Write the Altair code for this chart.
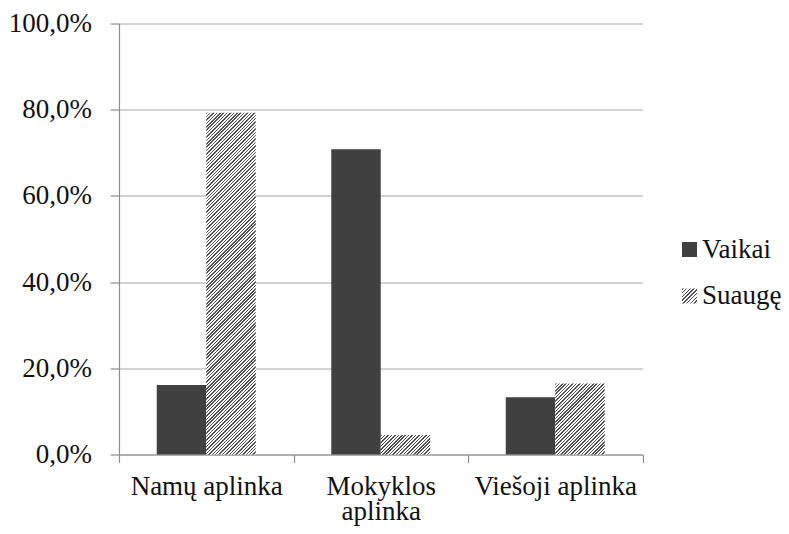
import altair as alt

# ---- data ----
categories = ["Namų aplinka", "Mokyklos aplinka", "Viešoji aplinka"]
label_lines = {"Mokyklos aplinka": ["Mokyklos", "aplinka"]}
series = ["Vaikai", "Suaugę"]
vaikai = [16.1, 70.8, 13.3]
suauge = [79.3, 4.5, 16.5]
y_ticks = [0, 20, 40, 60, 80, 100]

# ---- layout / style ----
W, H = 523.5, 431
BAND = W / len(categories)
BAR_W = 49.5
PAD_OUTER = (BAND / BAR_W - 2) / 2
FONT = "Liberation Serif"
FS = 27
DARK = "#404040"
HATCH_DARK = "#505050"
HATCH_LIGHT = "#ffffff"
PERIOD = 3.4


def hatch(w, h, period=PERIOD, frac=0.45):
    """Linear gradient with hard stops imitating 45° '////' hatching."""
    k = (w + h) / (w * w + h * h)
    n = max(1, int(round((w + h) / period)))
    stops = []
    for i in range(n):
        a = i / n
        b = (i + frac) / n
        c = (i + 1) / n
        stops += [
            {"offset": round(a, 5), "color": HATCH_DARK},
            {"offset": round(b, 5), "color": HATCH_DARK},
            {"offset": round(b, 5), "color": HATCH_LIGHT},
            {"offset": round(c, 5), "color": HATCH_LIGHT},
        ]
    return {"gradient": "linear", "x1": 0, "y1": 0,
            "x2": round(w * k, 5), "y2": round(h * k, 5), "stops": stops}


rows = []
for c, v, s in zip(categories, vaikai, suauge):
    rows.append({"category": c, "series": series[0], "value": v, "fillv": DARK})
    rows.append({"category": c, "series": series[1], "value": s,
                 "fillv": hatch(BAR_W, s / 100 * H)})

label_expr = "datum.label"
for k, lines in label_lines.items():
    arr = "[" + ", ".join("'" + l + "'" for l in lines) + "]"
    label_expr = f"datum.label == '{k}' ? {arr} : ({label_expr})"

bars = alt.Chart(alt.Data(values=rows)).mark_bar().encode(
    x=alt.X("category:N", sort=categories,
            scale=alt.Scale(paddingInner=0, paddingOuter=0),
            axis=alt.Axis(title=None, labelAngle=0, tickBand="extent",
                          tickSize=8, labelPadding=11, labelLineHeight=25,
                          labelExpr=label_expr, labelOverlap=False,
                          labelLimit=0, grid=False)),
    xOffset=alt.XOffset("series:N", sort=series,
                        scale=alt.Scale(paddingInner=0, paddingOuter=PAD_OUTER)),
    y=alt.Y("value:Q", scale=alt.Scale(domain=[0, 100], nice=False),
            axis=alt.Axis(title=None, values=y_ticks, tickSize=9,
                          labelPadding=18.5, labelLimit=0,
                          labelExpr="replace(format(datum.value, '.1f'), '.', ',') + '%'",
                          grid=True, gridColor="#a6a6a6", gridWidth=1.2)),
    fill=alt.Fill("fillv:N", scale=None, legend=None),
)

# ---- manual legend ----
legend_layers = []
LEG_X, LEG_SQ, LEG_Y0, LEG_DY = 563, 15, 218.5, 46.5
for i, s in enumerate(series):
    top = LEG_Y0 + i * LEG_DY
    fill = DARK if i == 0 else hatch(LEG_SQ, LEG_SQ, period=4.0)
    legend_layers.append(
        alt.Chart(alt.Data(values=[{"s": s}])).mark_rect(fill=fill).encode(
            x=alt.value(LEG_X), x2=alt.value(LEG_X + LEG_SQ),
            y=alt.value(top), y2=alt.value(top + LEG_SQ))
    )
    legend_layers.append(
        alt.Chart(alt.Data(values=[{"s": s}])).mark_text(
            align="left", baseline="alphabetic", font=FONT, fontSize=FS,
            color="#111111").encode(
            x=alt.value(LEG_X + LEG_SQ + 5), y=alt.value(top + LEG_SQ + 0.5),
            text="s:N")
    )

chart = alt.layer(bars, *legend_layers).properties(
    width=W, height=H,
    padding={"left": 111, "top": 15.5, "right": 138, "bottom": 71},
    autosize="none",
).configure_view(stroke=None).configure_axis(
    labelFont=FONT, labelFontSize=FS, labelColor="#111111",
    domainColor="#8c8c8c", tickColor="#8c8c8c", domainWidth=1.2, tickWidth=1.2,
)

chart.save("out.html", embed_options={"renderer": "svg", "actions": False})
